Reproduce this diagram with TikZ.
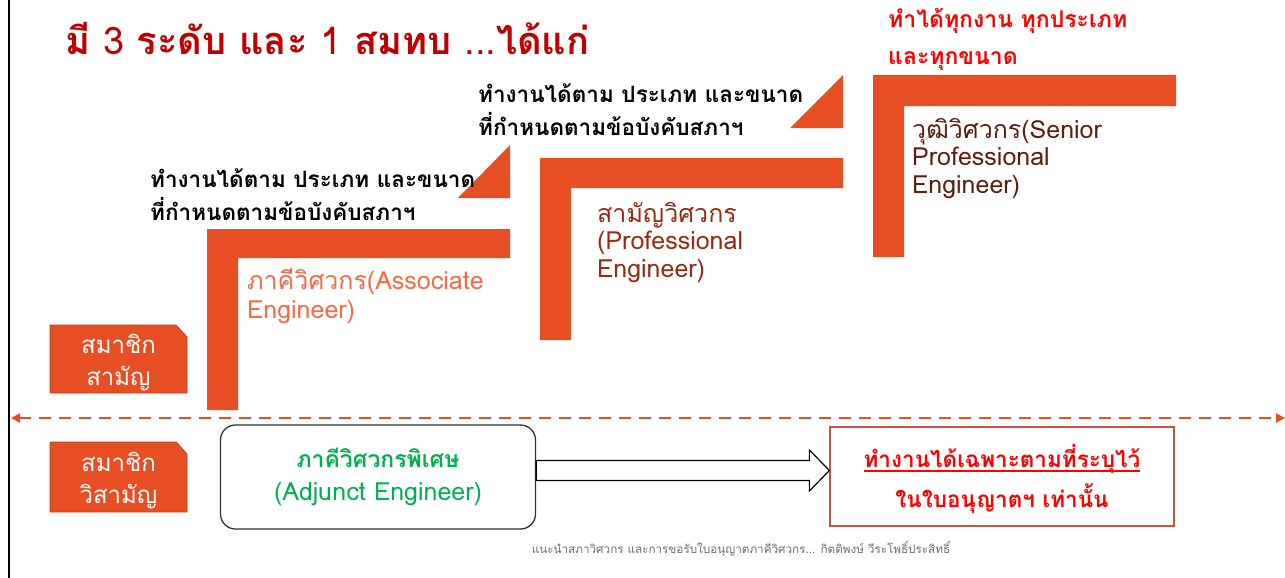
\documentclass[tikz,border=0pt]{standalone}
\usepackage{fontspec}
\setmainfont[Script=Thai]{Loma}
\usetikzlibrary{arrows.meta,calc}
\definecolor{org}{RGB}{232,78,36}
\definecolor{orgdark}{RGB}{190,65,30}
\definecolor{titlered}{RGB}{192,0,0}
\definecolor{assoc}{RGB}{250,104,70}
\definecolor{prof}{RGB}{150,42,18}
\definecolor{senior}{RGB}{92,31,15}
\definecolor{adjgreen}{RGB}{0,176,80}
\definecolor{rborder}{RGB}{197,85,60}
\definecolor{foot}{RGB}{110,110,110}
\newcommand\myul[1]{\setbox0\hbox{#1}\leavevmode\rlap{\rule[-5pt]{\wd0}{2pt}}\box0}
\tikzset{
  txt/.style={inner sep=0pt, anchor=base west, align=left},
  blacklabel/.style={txt, font=\bfseries\fontsize{22.5}{32.5}\selectfont, text=black},
  memfill/.style={fill=org, draw=orgdark, line width=0.8pt},
  memtext/.style={inner sep=0pt, align=center, text=white, font=\fontsize{24}{32}\selectfont},
  barfill/.style={fill=org},
}
\begin{document}
\begin{tikzpicture}[x=1pt,y=-1pt]
\useasboundingbox (0,0) rectangle (1285,578);
\fill[white] (0,0) rectangle (1285,578);
% left border line
\coordinate (lt) at (9,0);
\coordinate (lb) at (9,578);
\draw[line width=2.5pt] (lt) -- (lb);
% title
\node[txt, font=\bfseries\fontsize{38}{44}\selectfont, text=titlered] (title) at (65,55)
  {มี {\mdseries 3} ระดับ และ {\mdseries 1} สมทบ {\mdseries ...}ได้แก่};
% L-shaped steps
\fill[barfill] (207,229) -- (510,229) -- (510,258) -- (238,258) -- (238,410) -- (207,410) -- cycle;
\fill[barfill] (458,198) -- (510,145) -- (510,198) -- cycle;
\fill[barfill] (540,158) -- (843,158) -- (843,188) -- (571,188) -- (571,340) -- (540,340) -- cycle;
\fill[barfill] (790,128) -- (843,75) -- (843,128) -- cycle;
\fill[barfill] (873,75) -- (1176,75) -- (1176,106) -- (904,106) -- (904,257) -- (873,257) -- cycle;
% labels above steps (anchor = baseline of last line)
\node[blacklabel] (b1) at (150,220) {ทำงานได้ตาม ประเภท และขนาด\\ที่กำหนดตามข้อบังคับสภาฯ};
\node[blacklabel] (b2) at (478,135) {ทำงานได้ตาม ประเภท และขนาด\\ที่กำหนดตามข้อบังคับสภาฯ};
\node[txt, font=\bfseries\fontsize{23}{37}\selectfont, text=red] (b3) at (888,65) {ทำได้ทุกงาน ทุกประเภท\\และทุกขนาด};
% level names
\node[txt, text=assoc, font=\fontsize{25}{29}\selectfont] (assoc) at (247,318) {ภาคีวิศวกร(Associate\\Engineer)};
\node[txt, text=prof, font=\fontsize{25}{27.5}\selectfont] (prof) at (597,277) {สามัญวิศวกร\\(Professional\\Engineer)};
\node[txt, text=senior, font=\fontsize{25}{27.5}\selectfont] (senior) at (912,193) {วุฒิวิศวกร(Senior\\Professional\\Engineer)};
% member boxes
\fill[memfill] (50,325) -- (176,325) -- (187,337) -- (187,393) -- (50,393) -- cycle;
\node[memtext] (m1) at (118.5,363) {สมาชิก\\สามัญ};
\fill[memfill] (50,442) -- (176,442) -- (187,454) -- (187,512) -- (50,512) -- cycle;
\node[memtext] (m2) at (118.5,481) {สมาชิก\\วิสามัญ};
% dashed divider
\coordinate (dl) at (11,418);
\coordinate (dr) at (1285,418);
\draw[org, line width=2.5pt, dash pattern=on 12pt off 8pt, {Triangle[length=9pt,width=9pt]}-{Triangle[length=9pt,width=9pt]}] (dl) -- (dr);
% adjunct box
\node[draw=black!80, line width=1.3pt, rounded corners=15pt, minimum width=315pt, minimum height=104pt, align=center, text=adjgreen, font=\fontsize{25}{33}\selectfont] (adj) at (378,477)
  {{\bfseries\fontsize{23}{33}\selectfont ภาคีวิศวกรพิเศษ}\\(Adjunct Engineer)};
% restriction box
\node[draw=rborder, line width=1.3pt, minimum width=344pt, minimum height=99pt, align=center, text=red, font=\bfseries\fontsize{22.5}{40}\selectfont, text depth=2pt] (rb) at (1002,476.5)
  {\myul{ทำงานได้เฉพาะตามที่ระบุไว้}\\ในใบอนุญาตฯ เท่านั้น};
% hollow block arrow
\draw[line width=1.2pt, fill=white, line join=miter]
  ($(adj.east)+(0,-16.5)$) -- ($(rb.west)+(-20,-16)$) -- ($(rb.west)+(-20,-26.5)$) -- ($(rb.west)+(0,-6)$)
  -- ($(rb.west)+(-20,14.5)$) -- ($(rb.west)+(-20,4)$) -- ($(adj.east)+(0,3.5)$) -- cycle;
% footer
\node[inner sep=0pt, text=foot, font=\fontsize{11.7}{13}\selectfont] (ft) at (741,549)
  {แนะนำสภาวิศวกร และการขอรับใบอนุญาตภาคีวิศวกร... กิตติพงษ์ วีระโพธิ์ประสิทธิ์};
\end{tikzpicture}
\end{document}
